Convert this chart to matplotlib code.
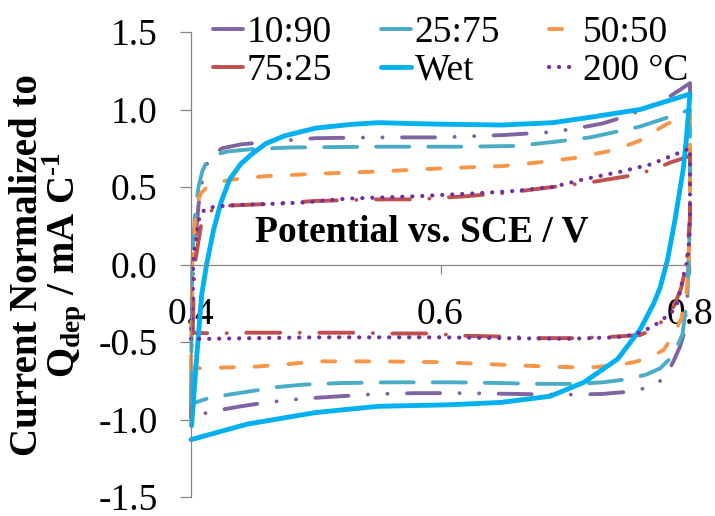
import matplotlib
matplotlib.use("Agg")
import matplotlib.pyplot as plt

plt.rcParams["font.family"] = ["Liberation Serif", "DejaVu Serif"]
plt.rcParams["mathtext.fontset"] = "custom"
plt.rcParams["mathtext.rm"] = "Liberation Serif"
plt.rcParams["mathtext.bf"] = "Liberation Serif:bold"
plt.rcParams["lines.scale_dashes"] = False

# cyclic voltammograms: forward scan 0.4 -> 0.8 V, then reverse back to 0.4 V
pot_10_90 = [0.400, 0.4005, 0.401, 0.402, 0.404, 0.406, 0.408, 0.411, 0.416, 0.425, 0.44, 0.46,
             0.50, 0.55, 0.60, 0.65, 0.69, 0.71, 0.73, 0.75, 0.77, 0.785, 0.80,
             0.80, 0.798, 0.795, 0.792, 0.787, 0.782, 0.775, 0.768, 0.752, 0.73, 0.70, 0.66,
             0.62, 0.58, 0.55, 0.52, 0.49, 0.46, 0.44, 0.415, 0.400]
cur_10_90 = [-0.99, -0.60, -0.20, 0.00, 0.20, 0.38, 0.50, 0.62, 0.70, 0.75, 0.775, 0.79,
             0.815, 0.82, 0.82, 0.835, 0.855, 0.88, 0.91, 0.96, 1.03, 1.09, 1.17,
             0.30, -0.20, -0.45, -0.53, -0.62, -0.70, -0.76, -0.79, -0.82, -0.835, -0.84, -0.835,
             -0.83, -0.83, -0.835, -0.85, -0.865, -0.89, -0.915, -0.95, -0.99]

pot_25_75 = [0.400, 0.4005, 0.401, 0.403, 0.406, 0.409, 0.413, 0.42, 0.43, 0.45, 0.48, 0.55,
             0.62, 0.66, 0.69, 0.72, 0.74, 0.76, 0.775, 0.79, 0.80,
             0.80, 0.798, 0.794, 0.79, 0.785, 0.776, 0.765, 0.75, 0.73, 0.71, 0.68, 0.65,
             0.61, 0.56, 0.52, 0.49, 0.47, 0.45, 0.43, 0.413, 0.400]
cur_25_75 = [-0.90, -0.40, 0.00, 0.30, 0.50, 0.60, 0.67, 0.71, 0.73, 0.745, 0.755, 0.76,
             0.76, 0.765, 0.79, 0.82, 0.855, 0.89, 0.93, 0.97, 1.00,
             0.30, -0.20, -0.45, -0.52, -0.60, -0.67, -0.71, -0.74, -0.76, -0.77, -0.77, -0.765,
             -0.76, -0.76, -0.765, -0.775, -0.79, -0.815, -0.84, -0.865, -0.90]

pot_50_50 = [0.400, 0.4005, 0.401, 0.403, 0.405, 0.408, 0.413, 0.42, 0.435, 0.46, 0.50, 0.55,
             0.60, 0.65, 0.68, 0.71, 0.74, 0.76, 0.78, 0.79, 0.80,
             0.80, 0.799, 0.797, 0.793, 0.787, 0.779, 0.768, 0.755, 0.745, 0.72, 0.69, 0.66,
             0.63, 0.60, 0.55, 0.50, 0.475, 0.45, 0.425, 0.41, 0.400]
cur_50_50 = [-0.67, -0.30, 0.00, 0.25, 0.40, 0.46, 0.50, 0.53, 0.55, 0.57, 0.585, 0.60,
             0.62, 0.635, 0.66, 0.69, 0.74, 0.80, 0.90, 0.94, 0.98,
             0.30, 0.00, -0.20, -0.35, -0.45, -0.55, -0.60, -0.63, -0.645, -0.665, -0.66, -0.65,
             -0.64, -0.63, -0.625, -0.625, -0.645, -0.66, -0.665, -0.67, -0.67]

pot_75_25 = [0.4015, 0.402, 0.403, 0.406, 0.408, 0.412, 0.42, 0.43, 0.46, 0.50, 0.55, 0.58,
             0.62, 0.65, 0.69, 0.72, 0.75, 0.77, 0.785, 0.80,
             0.80, 0.797, 0.793, 0.787, 0.78, 0.77, 0.76, 0.74, 0.71, 0.68, 0.65, 0.62,
             0.59, 0.56, 0.53, 0.50, 0.475, 0.445, 0.418, 0.4015]
cur_75_25 = [-0.44, -0.20, 0.00, 0.15, 0.25, 0.32, 0.37, 0.38, 0.39, 0.41, 0.42, 0.42,
             0.44, 0.46, 0.50, 0.53, 0.57, 0.61, 0.66, 0.70,
             0.30, 0.00, -0.15, -0.27, -0.35, -0.42, -0.455, -0.465, -0.475, -0.475, -0.465, -0.46,
             -0.445, -0.445, -0.44, -0.44, -0.44, -0.44, -0.445, -0.44]

pot_wet = [0.4005, 0.405, 0.4085, 0.4125, 0.418, 0.424, 0.431, 0.44, 0.45, 0.46, 0.475, 0.50,
           0.53, 0.55, 0.60, 0.65, 0.69, 0.72, 0.76, 0.80,
           0.797, 0.7945, 0.788, 0.782, 0.776, 0.771, 0.76, 0.742, 0.715, 0.688, 0.648, 0.608,
           0.55, 0.50, 0.445, 0.400]
cur_wet = [-1.04, -0.55, -0.20, 0.00, 0.22, 0.40, 0.55, 0.65, 0.72, 0.78, 0.83, 0.88,
           0.905, 0.915, 0.905, 0.90, 0.915, 0.95, 1.00, 1.10,
           0.80, 0.61, 0.29, 0.03, -0.15, -0.25, -0.42, -0.61, -0.76, -0.85, -0.89, -0.905,
           -0.915, -0.955, -1.03, -1.13]

pot_200c = [0.400, 0.4015, 0.4015, 0.402, 0.403, 0.404, 0.405, 0.406, 0.408, 0.412, 0.42, 0.44,
            0.46, 0.49, 0.525, 0.58, 0.63, 0.66, 0.69, 0.715, 0.745, 0.768, 0.785, 0.80,
            0.80, 0.7995, 0.798, 0.7945, 0.792, 0.789, 0.785, 0.778, 0.772, 0.765, 0.76, 0.75,
            0.74, 0.70, 0.65, 0.60, 0.55, 0.50, 0.45, 0.41, 0.400]
cur_200c = [-0.48, -0.20, -0.06, 0.04, 0.11, 0.15, 0.22, 0.28, 0.33, 0.36, 0.375, 0.385,
            0.39, 0.40, 0.425, 0.44, 0.46, 0.475, 0.50, 0.55, 0.60, 0.645, 0.70, 0.75,
            0.35, 0.18, 0.03, -0.08, -0.18, -0.27, -0.31, -0.355, -0.39, -0.42, -0.44, -0.46,
            -0.47, -0.48, -0.475, -0.47, -0.47, -0.47, -0.475, -0.48, -0.48]

labels = ["10:90", "25:75", "50:50", "75:25", "Wet", "200 °C"]
x_ticks = [0.4, 0.6, 0.8]
x_tick_labels = ["0.4", "0.6", "0.8"]
y_ticks = [-1.5, -1.0, -0.5, 0.0, 0.5, 1.0, 1.5]
y_tick_labels = ["-1.5", "-1.0", "-0.5", "0.0", "0.5", "1.0", "1.5"]

series = [(pot_10_90, cur_10_90), (pot_25_75, cur_25_75), (pot_50_50, cur_50_50),
          (pot_75_25, cur_75_25), (pot_wet, cur_wet), (pot_200c, cur_200c)]

# dash patterns in points (scale_dashes is off)
styles = [
    dict(color="#8064A2", lw=2.8, dashes=(23.8, 14.0, 0.1, 14.0, 0.1, 14.0)),
    dict(color="#4BACC6", lw=2.8, dashes=(23.8, 13.7)),
    dict(color="#F79646", lw=2.8, dashes=(9.4, 15.0)),
    dict(color="#C0504D", lw=2.8, dashes=(24.5, 14.0, 0.1, 14.0)),
    dict(color="#00B0F0", lw=3.5, dashes=None),
    dict(color="#7030A0", lw=3.0, dashes=(0.1, 7.1)),
]

fig = plt.figure(figsize=(7.15, 5.16), dpi=100)
ax = fig.add_axes([191 / 715, 1 - 497 / 516, (690 - 191) / 715, (497 - 32) / 516])

handles = []
for (pot, cur), lab, st in zip(series, labels, styles):
    line, = ax.plot(pot, cur, color=st["color"], lw=st["lw"], label=lab,
                    solid_capstyle="round", dash_capstyle="round",
                    solid_joinstyle="round", clip_on=False)
    if st["dashes"] is not None:
        line.set_dashes(st["dashes"])
    handles.append(line)

ax.set_xlim(0.4, 0.8)
ax.set_ylim(-1.5, 1.5)
ax.set_xticks(x_ticks)
ax.set_xticklabels(x_tick_labels)
ax.set_yticks(y_ticks)
ax.set_yticklabels(y_tick_labels)

axis_grey = "#868686"
ax.spines["top"].set_visible(False)
ax.spines["right"].set_visible(False)
ax.spines["bottom"].set_position(("data", 0))
for side in ("left", "bottom"):
    ax.spines[side].set_color(axis_grey)
    ax.spines[side].set_linewidth(0.9)
ax.tick_params(axis="y", direction="out", length=8, width=0.9, color=axis_grey,
               labelsize=27, pad=16)
ax.tick_params(axis="x", direction="out", length=6.5, width=0.9, color=axis_grey,
               labelsize=27, pad=17)

ax.text(0.463, 0.57, "Potential vs. SCE / V", transform=ax.transAxes,
        ha="center", va="center", fontsize=27, fontweight="bold")

fig.text(49 / 715, 1 - 265 / 516,
         "Current Normalized to\n" + r"$\mathbf{Q_{dep}}$" + " / mA C" + r"$^{\mathbf{‐1}}$",
         rotation=90, ha="center", va="center", multialignment="center",
         fontsize=28, fontweight="bold", linespacing=0.82)

# column-wise fill: rows read 10:90, 25:75, 50:50 / 75:25, Wet, 200 °C
order = [0, 3, 1, 4, 2, 5]
fig.legend([handles[i] for i in order], [labels[i] for i in order],
           loc="upper left", bbox_to_anchor=(213 / 715, 1 - 16 / 516), ncol=3,
           frameon=False, fontsize=27, handlelength=0.8, handletextpad=0.1,
           columnspacing=1.3, labelspacing=0.08, borderpad=0, borderaxespad=0)

fig.savefig("out.png", dpi=100)
